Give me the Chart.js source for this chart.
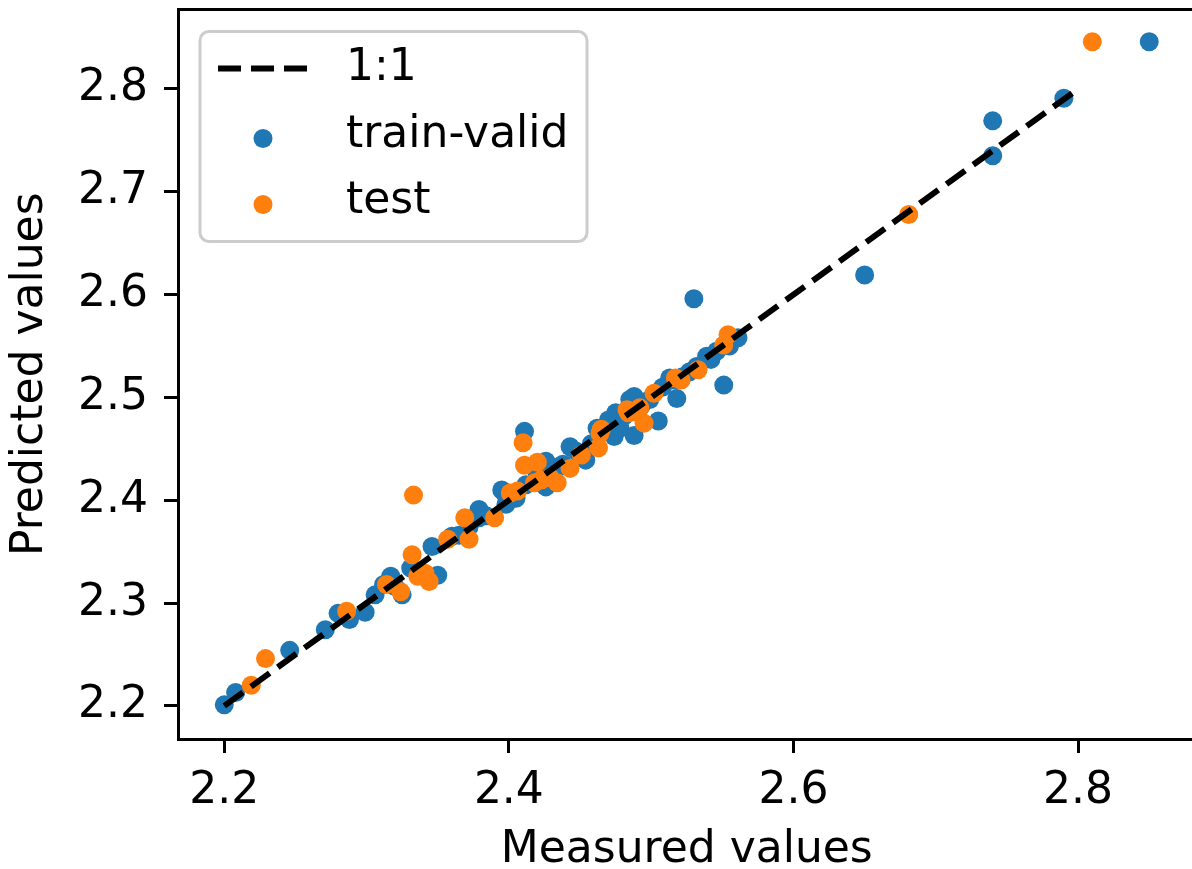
<!DOCTYPE html>
<html>
<head>
<meta charset="utf-8">
<script src="https://cdn.jsdelivr.net/npm/chart.js@4.4.0/dist/chart.umd.min.js"></script>
<style>
    html, body { margin: 0; padding: 0; background: #fff; overflow: hidden; }
</style>
</head>
<body>
<canvas id="parityChart" width="1205" height="869"></canvas>
<script>
// measured / predicted values
const trainX = [2.200, 2.208, 2.246, 2.271, 2.280, 2.288, 2.299, 2.306, 2.317, 2.325,
                2.331, 2.350, 2.346, 2.360, 2.372, 2.379, 2.397, 2.398, 2.379, 2.395,
                2.411, 2.412, 2.420, 2.426, 2.426, 2.432, 2.436, 2.443, 2.450, 2.454,
                2.462, 2.468, 2.474, 2.474, 2.475, 2.481, 2.485, 2.488, 2.488, 2.499,
                2.505, 2.513, 2.516, 2.518, 2.532, 2.539, 2.546, 2.551, 2.555, 2.561,
                2.530, 2.650, 2.740, 2.740, 2.790, 2.850,
                2.312, 2.320, 2.365, 2.384, 2.405, 2.438, 2.447, 2.458, 2.470, 2.478,
                2.493, 2.508, 2.522, 2.527, 2.542];
const trainY = [2.201, 2.213, 2.254, 2.274, 2.290, 2.284, 2.291, 2.308, 2.326, 2.308,
                2.334, 2.327, 2.355, 2.365, 2.374, 2.383, 2.407, 2.396, 2.391, 2.410,
                2.467, 2.415, 2.425, 2.438, 2.413, 2.420, 2.433, 2.452, 2.445, 2.439,
                2.470, 2.468, 2.475, 2.462, 2.485, 2.482, 2.498, 2.463, 2.501, 2.498,
                2.477, 2.519, 2.517, 2.499, 2.530, 2.540, 2.545, 2.512, 2.550, 2.558,
                2.596, 2.619, 2.735, 2.769, 2.791, 2.846,
                2.318, 2.316, 2.366, 2.385, 2.402, 2.435, 2.448, 2.455, 2.478, 2.470,
                2.492, 2.510, 2.520, 2.525, 2.537];

const testX = [2.219, 2.229, 2.286, 2.314, 2.324, 2.333, 2.332, 2.336, 2.341, 2.344,
               2.357, 2.369, 2.372, 2.390, 2.401, 2.406, 2.410, 2.411, 2.420, 2.418,
               2.423, 2.429, 2.434, 2.443, 2.451, 2.463, 2.464, 2.465, 2.483, 2.484,
               2.488, 2.495, 2.492, 2.502, 2.517, 2.521, 2.533, 2.551, 2.554, 2.681, 2.810];
const testY = [2.220, 2.246, 2.292, 2.318, 2.311, 2.405, 2.347, 2.326, 2.329, 2.321,
               2.362, 2.383, 2.362, 2.383, 2.407, 2.409, 2.456, 2.434, 2.437, 2.417,
               2.420, 2.422, 2.417, 2.431, 2.444, 2.451, 2.465, 2.469, 2.488, 2.485,
               2.486, 2.475, 2.490, 2.504, 2.519, 2.517, 2.527, 2.551, 2.561, 2.678, 2.846];

const lineX = [2.2, 2.8];
const lineY = [2.2, 2.8];

const xTicks = [2.2, 2.4, 2.6, 2.8];
const yTicks = [2.2, 2.3, 2.4, 2.5, 2.6, 2.7, 2.8];

const labels = ['1:1', 'train-valid', 'test'];

const FONT = 'DejaVu Sans';
const BLUE = '#1f77b4';
const ORANGE = '#ff7f0e';

function toPoints(xs, ys) {
    return xs.map((x, i) => ({ x: x, y: ys[i] }));
}

// top/right spines like matplotlib
const framePlugin = {
    id: 'frame',
    afterDraw(chart) {
        const { ctx, chartArea: a } = chart;
        ctx.save();
        ctx.strokeStyle = '#000';
        ctx.lineWidth = 3;
        ctx.beginPath();
        ctx.moveTo(a.left, a.top);
        ctx.lineTo(a.right, a.top);
        ctx.lineTo(a.right, a.bottom);
        ctx.stroke();
        ctx.restore();
    }
};

// legend drawn inside the axes, upper left
const legendPlugin = {
    id: 'insideLegend',
    afterDraw(chart) {
        const { ctx, chartArea: a } = chart;
        const x0 = a.left + 22, y0 = a.top + 22, w = 387, h = 210;
        ctx.save();
        ctx.fillStyle = 'rgba(255,255,255,0.8)';
        ctx.strokeStyle = '#cccccc';
        ctx.lineWidth = 3;
        ctx.beginPath();
        ctx.roundRect(x0, y0, w, h, 9);
        ctx.fill();
        ctx.stroke();

        const rows = [y0 + 37, y0 + 104, y0 + 170];
        const ds = chart.data.datasets;
        ctx.font = '44px "' + FONT + '"';
        ctx.textBaseline = 'middle';
        ctx.textAlign = 'left';
        ds.forEach((d, i) => {
            const cy = rows[i];
            if (d.pointRadius === 0) {
                ctx.strokeStyle = d.borderColor;
                ctx.lineWidth = d.borderWidth;
                ctx.setLineDash(d.borderDash);
                ctx.beginPath();
                ctx.moveTo(x0 + 18, cy);
                ctx.lineTo(x0 + 108, cy);
                ctx.stroke();
                ctx.setLineDash([]);
            } else {
                ctx.fillStyle = d.backgroundColor;
                ctx.beginPath();
                ctx.arc(x0 + 63, cy + 3, d.pointRadius, 0, Math.PI * 2);
                ctx.fill();
            }
            ctx.fillStyle = '#000';
            ctx.fillText(d.label, x0 + 146, cy);
        });
        ctx.restore();
    }
};

const ctx = document.getElementById('parityChart').getContext('2d');
new Chart(ctx, {
    type: 'scatter',
    data: {
        datasets: [
            {
                label: labels[0],
                data: toPoints(lineX, lineY),
                showLine: true,
                borderColor: '#000',
                borderWidth: 6,
                borderDash: [23, 10],
                pointRadius: 0,
                order: 0
            },
            {
                label: labels[1],
                data: toPoints(trainX, trainY),
                backgroundColor: BLUE,
                borderWidth: 0,
                pointRadius: 9.5,
                order: 2
            },
            {
                label: labels[2],
                data: toPoints(testX, testY),
                backgroundColor: ORANGE,
                borderWidth: 0,
                pointRadius: 9.5,
                order: 1
            }
        ]
    },
    options: {
        responsive: false,
        animation: false,
        layout: { padding: { top: 9, right: 4, left: 0, bottom: 0 } },
        plugins: {
            legend: { display: false },
            tooltip: { enabled: false }
        },
        scales: {
            x: {
                type: 'linear',
                position: 'bottom',
                min: 2.1675,
                max: 2.8825,
                afterBuildTicks: s => { s.ticks = xTicks.map(v => ({ value: v })); },
                afterFit: s => { s.height = 130; s.paddingLeft = 0; s.paddingRight = 0; },
                grid: { display: true, drawOnChartArea: false, drawTicks: true, tickLength: 14, tickWidth: 3, tickColor: '#000' },
                border: { display: true, color: '#000', width: 3 },
                ticks: {
                    autoSkip: false, maxRotation: 0, padding: 12, color: '#000',
                    font: { family: FONT, size: 44 },
                    callback: v => v.toFixed(1)
                },
                title: {
                    display: true, text: 'Measured values', color: '#000',
                    font: { family: FONT, size: 44, lineHeight: '36px' },
                    padding: { top: 0, bottom: 0 }
                }
            },
            y: {
                type: 'linear',
                min: 2.1678,
                max: 2.8773,
                afterBuildTicks: s => { s.ticks = yTicks.map(v => ({ value: v })); },
                afterFit: s => { s.width = 178; s.paddingTop = 0; s.paddingBottom = 0; },
                grid: { display: true, drawOnChartArea: false, drawTicks: true, tickLength: 14, tickWidth: 3, tickColor: '#000' },
                border: { display: true, color: '#000', width: 3 },
                ticks: {
                    autoSkip: false, padding: 16, color: '#000',
                    font: { family: FONT, size: 44 },
                    callback: v => v.toFixed(1)
                },
                title: {
                    display: true, text: 'Predicted values', color: '#000',
                    font: { family: FONT, size: 44, lineHeight: 1 },
                    padding: { top: 9, bottom: 0 }
                }
            }
        }
    },
    plugins: [framePlugin, legendPlugin]
});
</script>
</body>
</html>
